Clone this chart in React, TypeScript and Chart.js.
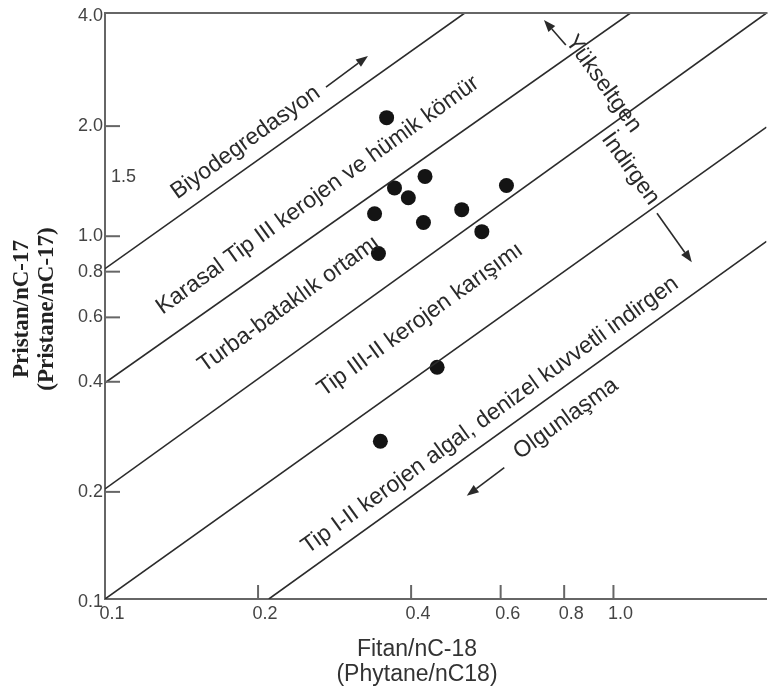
import React, { useEffect, useRef } from 'react';
import { Chart, registerables } from 'chart.js';

Chart.register(...registerables);

// Sample values (Fitan/nC-18 vs Pristan/nC-17)
const fitanValues = [0.358, 0.426, 0.371, 0.616, 0.395, 0.339, 0.503, 0.423, 0.551, 0.345, 0.45, 0.348];
const pristanValues = [2.07, 1.43, 1.33, 1.35, 1.25, 1.13, 1.16, 1.07, 1.01, 0.88, 0.43, 0.27];

// Axis ticks
const xTickValues = [0.1, 0.2, 0.4, 0.6, 0.8, 1.0];
const yTickValues = [0.1, 0.2, 0.4, 0.6, 0.8, 1.0, 2.0, 4.0];
const xInnerTickValues = [0.2, 0.4, 0.6, 0.8, 1.0];
const yInnerTickValues = [0.2, 0.4, 0.6, 0.8, 1.0, 2.0];
const yInnerLabelValue = 1.5;
const xMin = 0.1;
const xMax = 2.0;
const yMin = 0.1;
const yMax = 4.0;

// Field boundary lines (start / end points in data units)
const boundaryStartX = [0.1, 0.1, 0.1, 0.1, 0.21];
const boundaryStartY = [0.8, 0.39, 0.2, 0.1, 0.1];
const boundaryEndX = [0.51, 1.08, 2.0, 2.0, 2.0];
const boundaryEndY = [4.0, 4.0, 4.0, 1.95, 0.95];

// Field labels along the lines
const zoneLabels = [
  'Biyodegredasyon',
  'Karasal Tip III kerojen ve hümik kömür',
  'Turba-bataklık ortamı',
  'Tip III-II kerojen karışımı',
  'Tip I-II kerojen algal, denizel kuvvetli indirgen',
  'Olgunlaşma',
];
const zoneLabelX = [0.189, 0.262, 0.23, 0.417, 0.572, 0.806];
const zoneLabelY = [1.77, 1.27, 0.64, 0.58, 0.318, 0.311];

// Labels perpendicular to the lines
const crossLabels = ['Yükseltgen', 'İndirgen'];
const crossLabelX = [0.955, 1.08];
const crossLabelY = [2.56, 1.5];

// Arrows (from -> to, data units)
const arrowFromX = [0.272, 0.61, 0.806, 1.218];
const arrowFromY = [2.51, 0.2285, 3.27, 1.134];
const arrowToX = [0.329, 0.5146, 0.73, 1.426];
const arrowToY = [3.05, 0.1915, 3.83, 0.833];

const yTitleLines = ['Pristan/nC-17', '(Pristane/nC-17)'];
const xTitleLines = ['Fitan/nC-18', '(Phytane/nC18)'];

const SANS = "'Liberation Sans', Arial, sans-serif";
const SERIF = "'Liberation Serif', 'Times New Roman', serif";

const overlayPlugin = {
  id: 'overlay',
  afterDraw(chart: any) {
    const { ctx, chartArea } = chart;
    const xs = chart.scales.x;
    const ys = chart.scales.y;
    const px = (v: number) => xs.getPixelForValue(v);
    const py = (v: number) => ys.getPixelForValue(v);
    const theta = Math.atan2(py(0.1) - py(1), px(1) - px(0.1));

    ctx.save();
    // top frame line
    ctx.strokeStyle = '#666';
    ctx.lineWidth = 2;
    ctx.beginPath();
    ctx.moveTo(chartArea.left - 1, chartArea.top);
    ctx.lineTo(chartArea.right + 1, chartArea.top);
    ctx.stroke();

    // inward tick marks
    ctx.lineWidth = 2;
    yInnerTickValues.forEach((v) => {
      const y = py(v) + 3;
      ctx.beginPath();
      ctx.moveTo(chartArea.left, y);
      ctx.lineTo(chartArea.left + 15, y);
      ctx.stroke();
    });
    xInnerTickValues.forEach((v) => {
      const x = px(v);
      ctx.beginPath();
      ctx.moveTo(x, chartArea.bottom);
      ctx.lineTo(x, chartArea.bottom - 14);
      ctx.stroke();
    });

    // inner 1.5 label
    ctx.fillStyle = '#444';
    ctx.font = `18px ${SANS}`;
    ctx.textAlign = 'left';
    ctx.textBaseline = 'middle';
    ctx.fillText(String(yInnerLabelValue), chartArea.left + 6, py(yInnerLabelValue) + 8);

    // zone labels
    ctx.fillStyle = '#2a2a2a';
    ctx.font = `23px ${SANS}`;
    ctx.textAlign = 'center';
    ctx.textBaseline = 'middle';
    zoneLabels.forEach((t, i) => {
      ctx.save();
      ctx.translate(px(zoneLabelX[i]), py(zoneLabelY[i]));
      ctx.rotate(-theta);
      ctx.fillText(t, 0, 0);
      ctx.restore();
    });
    crossLabels.forEach((t, i) => {
      ctx.save();
      ctx.translate(px(crossLabelX[i]), py(crossLabelY[i]));
      ctx.rotate(Math.PI / 2 - theta);
      ctx.fillText(t, 0, 0);
      ctx.restore();
    });

    // arrows
    ctx.strokeStyle = '#2a2a2a';
    ctx.fillStyle = '#2a2a2a';
    ctx.lineWidth = 1.6;
    arrowFromX.forEach((_, i) => {
      const x0 = px(arrowFromX[i]);
      const y0 = py(arrowFromY[i]);
      const x1 = px(arrowToX[i]);
      const y1 = py(arrowToY[i]);
      const a = Math.atan2(y1 - y0, x1 - x0);
      const hl = 12;
      const hw = 4.5;
      const bx = x1 - hl * Math.cos(a);
      const by = y1 - hl * Math.sin(a);
      ctx.beginPath();
      ctx.moveTo(x0, y0);
      ctx.lineTo(bx, by);
      ctx.stroke();
      ctx.beginPath();
      ctx.moveTo(x1, y1);
      ctx.lineTo(bx + hw * Math.sin(a), by - hw * Math.cos(a));
      ctx.lineTo(bx - hw * Math.sin(a), by + hw * Math.cos(a));
      ctx.closePath();
      ctx.fill();
    });

    // y axis title (two rotated lines)
    ctx.fillStyle = '#222';
    ctx.font = `bold 23px ${SERIF}`;
    ctx.textAlign = 'center';
    ctx.textBaseline = 'middle';
    const yc = (chartArea.top + chartArea.bottom) / 2 + 3;
    yTitleLines.forEach((t, i) => {
      ctx.save();
      ctx.translate(22 + i * 25, yc);
      ctx.rotate(-Math.PI / 2);
      ctx.fillText(t, 0, 0);
      ctx.restore();
    });

    // x axis title
    ctx.fillStyle = '#333';
    ctx.font = `23px ${SANS}`;
    xTitleLines.forEach((t, i) => {
      ctx.fillText(t, 417, chartArea.bottom + 51 + i * 25);
    });
    ctx.restore();
  },
};

export default function App() {
  const canvasRef = useRef<HTMLCanvasElement>(null);

  useEffect(() => {
    const canvas = canvasRef.current;
    if (!canvas) return;

    const samplePoints = fitanValues.map((x, i) => ({ x, y: pristanValues[i] }));
    const boundarySets = boundaryStartX.map((_, i) => ({
      type: 'line' as const,
      label: `boundary-${i}`,
      data: [
        { x: boundaryStartX[i], y: boundaryStartY[i] },
        { x: boundaryEndX[i], y: boundaryEndY[i] },
      ],
      borderColor: '#2b2b2b',
      borderWidth: 1.6,
      pointRadius: 0,
      fill: false,
      tension: 0,
    }));

    const chart = new Chart(canvas, {
      type: 'scatter',
      data: {
        datasets: [
          ...boundarySets,
          {
            type: 'scatter' as const,
            label: 'Samples',
            data: samplePoints,
            backgroundColor: '#141414',
            borderColor: '#141414',
            borderWidth: 0,
            pointRadius: 7.5,
          },
        ] as any,
      },
      options: {
        responsive: false,
        animation: false,
        devicePixelRatio: 1,
        layout: { padding: { top: 13, right: 1, left: 0, bottom: 0 } },
        plugins: {
          legend: { display: false },
          tooltip: { enabled: false },
        },
        scales: {
          x: {
            type: 'logarithmic',
            position: 'bottom',
            min: xMin,
            max: xMax,
            afterBuildTicks: (axis: any) => {
              axis.ticks = xTickValues.map((v) => ({ value: v }));
            },
            afterFit: (axis: any) => {
              axis.height = 94;
            },
            grid: { display: false, drawTicks: false },
            border: { display: true, color: '#666', width: 2 },
            ticks: {
              autoSkip: false,
              maxRotation: 0,
              color: '#444',
              padding: 4,
              labelOffset: 7,
              font: { family: SANS, size: 18 },
              callback: (v: any) => Number(v).toFixed(1),
            },
          },
          y: {
            type: 'logarithmic',
            position: 'left',
            min: yMin,
            max: yMax,
            afterBuildTicks: (axis: any) => {
              axis.ticks = yTickValues.map((v) => ({ value: v }));
            },
            afterFit: (axis: any) => {
              axis.width = 105;
            },
            grid: { display: false, drawTicks: false },
            border: { display: true, color: '#666', width: 2 },
            ticks: {
              autoSkip: false,
              color: '#444',
              padding: 2,
              labelOffset: 3,
              font: { family: SANS, size: 18 },
              callback: (v: any) => Number(v).toFixed(1),
            },
          },
        },
      } as any,
      plugins: [overlayPlugin],
    });

    return () => chart.destroy();
  }, []);

  return (
    <div style={{ position: 'absolute', left: 0, top: 0, width: 774, height: 693, background: '#fff' }}>
      <canvas ref={canvasRef} width={774} height={693} style={{ display: 'block' }} />
    </div>
  );
}
